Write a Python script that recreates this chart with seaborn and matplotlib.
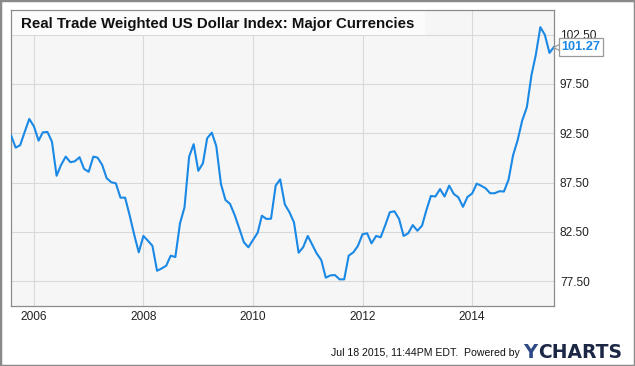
import matplotlib
matplotlib.use("Agg")
import matplotlib.pyplot as plt
import matplotlib.dates as mdates
import matplotlib.transforms as mtransforms
from matplotlib.patches import Rectangle
import numpy as np
import pandas as pd
import seaborn as sns

# ---- data (monthly, Aug 2005 - Jul 2015) ----
start_month = "2005-08-01"
values = [
    92.3, 91.05, 91.3, 92.67, 93.96, 93.2, 91.76, 92.6, 92.64, 91.66,
    88.2, 89.3, 90.14, 89.57, 89.67, 90.08, 88.9, 88.6, 90.14, 90.04,
    89.3, 87.95, 87.54, 87.44, 85.98, 85.98, 84.2, 82.2, 80.44, 82.1,
    81.6, 81.1, 78.57, 78.8, 79.08, 80.1, 79.96, 83.38, 85.0, 90.14,
    91.4, 88.7, 89.47, 92.0, 92.57, 91.2, 87.37, 85.75, 85.34, 84.2,
    82.87, 81.46, 80.95, 81.7, 82.43, 84.15, 83.82, 83.85, 87.2, 87.84,
    85.3, 84.5, 83.48, 80.4, 80.95, 82.1, 81.18, 80.34, 79.66, 77.87,
    78.1, 78.14, 77.7, 77.7, 80.1, 80.44, 81.08, 82.27, 82.37, 81.35,
    82.1, 81.96, 83.2, 84.5, 84.6, 83.82, 82.1, 82.37, 83.2, 82.63,
    83.14, 84.66, 86.15, 86.1, 86.85, 86.1, 87.2, 86.35, 86.02, 85.05,
    86.05, 86.4, 87.4, 87.2, 86.93, 86.43, 86.43, 86.63, 86.6, 87.8,
    90.27, 91.83, 93.8, 95.15, 98.42, 100.4, 103.26, 102.48, 100.65, 101.27,
]
title = "Real Trade Weighted US Dollar Index: Major Currencies"
ytick_values = [77.5, 82.5, 87.5, 92.5, 97.5, 102.5]
xtick_years = [2006, 2008, 2010, 2012, 2014]
last_label = "101.27"
footer = "Jul 18 2015, 11:44PM EDT.  Powered by"

dates = pd.date_range(start_month, periods=len(values), freq="MS")
df = pd.DataFrame({"date": dates, "value": values})

# ---- style ----
sns.set_theme(style="white")
plt.rcParams["font.family"] = ["Liberation Sans", "DejaVu Sans"]

line_color = "#1a88e5"
fig = plt.figure(figsize=(6.35, 3.66), dpi=100)
fig.patch.set_facecolor("white")
ax = fig.add_axes([11 / 635, 1 - 306 / 366, 543 / 635, 296 / 366])
ax.set_facecolor("#f6f6f6")
ax.set_axisbelow(True)

sns.lineplot(data=df, x="date", y="value", ax=ax, color=line_color,
             linewidth=1.5, zorder=3)

ax.set_xlim(dates[0], dates[-1])
ax.set_ylim(75, 105)
ax.set_xlabel("")
ax.set_ylabel("")

ax.set_xticks([pd.Timestamp(f"{y}-01-01") for y in xtick_years])
ax.xaxis.set_major_formatter(mdates.DateFormatter("%Y"))
ax.set_yticks(ytick_values)
ax.set_yticklabels([f"{v:.2f}" for v in ytick_values])
ax.yaxis.tick_right()
ax.tick_params(axis="both", length=0, labelsize=8.6, colors="#222222")
ax.tick_params(axis="y", pad=4.3)
ax.tick_params(axis="x", pad=3.6)
ax.grid(True, color="#d9d9d9", linewidth=0.8)
for s in ax.spines.values():
    s.set_color("#8c8c8c")
    s.set_linewidth(0.9)

# title box
ax.add_patch(Rectangle((0, 1 - 25 / 296), 414 / 543, 25 / 296,
                       transform=ax.transAxes, facecolor="#fbfbfb",
                       edgecolor="none", zorder=1.5))
ax.text(10 / 543, 1 - 14 / 296, title, transform=ax.transAxes,
        fontsize=10.8, fontweight="bold", color="#111111",
        ha="left", va="center", zorder=4)

# last value marker + label
tri_tr = mtransforms.offset_copy(ax.transData, fig=fig, x=4, y=0, units="dots")
ax.plot([dates[-1]], [values[-1]], marker="<", markersize=6.5,
        markerfacecolor="white", markeredgecolor="#999999",
        markeredgewidth=0.9, transform=tri_tr, clip_on=False, zorder=5)
ax.annotate(last_label, xy=(dates[-1], values[-1]), xytext=(5.3, 0),
            textcoords="offset points", ha="left", va="center",
            fontsize=9.2, fontweight="bold", color=line_color,
            bbox=dict(boxstyle="square,pad=0.22", fc="white", ec="#999999",
                      lw=0.9),
            annotation_clip=False, zorder=6)

# footer
fig.text(520 / 635, 1 - 353 / 366, footer, ha="right", va="center",
         fontsize=7.6, color="#111111")
fig.text(523 / 635, 1 - 353 / 366, "Y", ha="left", va="center",
         fontsize=14, fontweight="bold", color="#2f4a86",
         family="DejaVu Sans")
fig.text(538 / 635, 1 - 353 / 366, "CHARTS", ha="left", va="center",
         fontsize=13.5, fontweight="bold", color="#1b2744",
         family="DejaVu Sans")

# outer frame
fig.add_artist(Rectangle((0, 0), 1, 1, transform=fig.transFigure,
                         fill=False, edgecolor="#8a8a8a", linewidth=2.5))

fig.savefig("out.png", dpi=100)
